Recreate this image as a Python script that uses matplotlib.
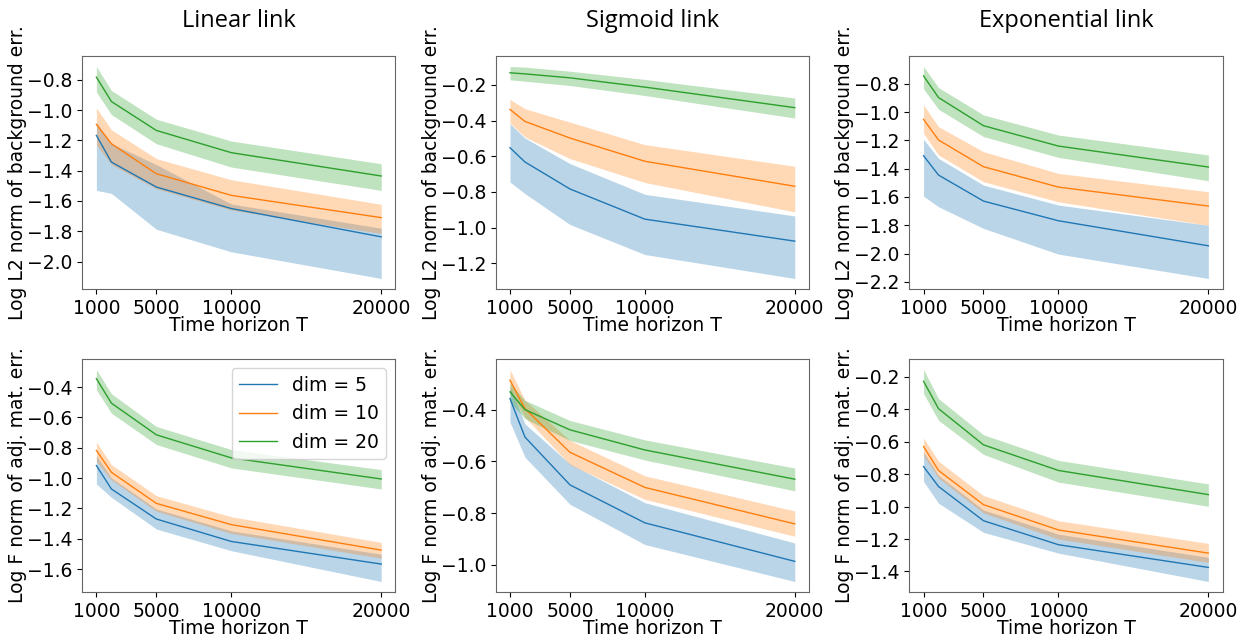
import numpy as np
import matplotlib.pyplot as plt
from matplotlib.ticker import MultipleLocator

plt.rcParams['font.family'] = ['DejaVu Sans']

T = [1000, 2000, 5000, 10000, 20000]
dims = [5, 10, 20]
links = ["Linear link", "Sigmoid link", "Exponential link"]
ylabels = ["Log L2 norm of background err.", "Log F norm of adj. mat. err."]

# background error (top row): mean, upper, lower per dim, per link
bg_linear_mean = [[-1.167, -1.343, -1.508, -1.650, -1.837],
                  [-1.094, -1.222, -1.420, -1.563, -1.710],
                  [-0.782, -0.943, -1.134, -1.281, -1.435]]
bg_linear_up = [[-1.08, -1.22, -1.36, -1.62, -1.78],
                [-0.985, -1.13, -1.32, -1.46, -1.622],
                [-0.712, -0.870, -1.060, -1.204, -1.354]]
bg_linear_lo = [[-1.53, -1.55, -1.787, -1.936, -2.112],
                [-1.23, -1.36, -1.52, -1.66, -1.815],
                [-0.881, -1.029, -1.222, -1.376, -1.530]]

bg_sigmoid_mean = [[-0.552, -0.632, -0.783, -0.952, -1.075],
                   [-0.338, -0.405, -0.498, -0.628, -0.768],
                   [-0.133, -0.139, -0.161, -0.213, -0.328]]
bg_sigmoid_up = [[-0.418, -0.498, -0.641, -0.813, -0.934],
                 [-0.282, -0.334, -0.409, -0.535, -0.656],
                 [-0.098, -0.101, -0.124, -0.170, -0.274]]
bg_sigmoid_lo = [[-0.744, -0.809, -0.982, -1.150, -1.284],
                 [-0.414, -0.492, -0.613, -0.747, -0.911],
                 [-0.172, -0.180, -0.204, -0.260, -0.386]]

bg_exp_mean = [[-1.308, -1.445, -1.629, -1.768, -1.945],
               [-1.051, -1.197, -1.386, -1.530, -1.664],
               [-0.744, -0.897, -1.096, -1.240, -1.388]]
bg_exp_up = [[-1.192, -1.327, -1.516, -1.657, -1.800],
             [-0.949, -1.103, -1.280, -1.433, -1.563],
             [-0.678, -0.827, -1.020, -1.162, -1.303]]
bg_exp_lo = [[-1.594, -1.669, -1.822, -2.004, -2.176],
             [-1.150, -1.303, -1.492, -1.634, -1.800],
             [-0.836, -0.980, -1.173, -1.320, -1.485]]

# adjacency matrix error (bottom row)
adj_linear_mean = [[-0.918, -1.072, -1.270, -1.418, -1.567],
                   [-0.818, -0.962, -1.167, -1.307, -1.475],
                   [-0.345, -0.506, -0.715, -0.867, -1.006]]
adj_linear_up = [[-0.852, -0.999, -1.204, -1.348, -1.502],
                 [-0.763, -0.911, -1.116, -1.255, -1.424],
                 [-0.285, -0.444, -0.660, -0.812, -0.944]]
adj_linear_lo = [[-1.039, -1.127, -1.336, -1.479, -1.682],
                 [-0.889, -1.012, -1.219, -1.365, -1.528],
                 [-0.418, -0.572, -0.779, -0.933, -1.072]]

adj_sigmoid_mean = [[-0.357, -0.506, -0.691, -0.838, -0.987],
                    [-0.286, -0.396, -0.565, -0.701, -0.842],
                    [-0.331, -0.400, -0.478, -0.556, -0.669]]
adj_sigmoid_up = [[-0.312, -0.455, -0.610, -0.760, -0.916],
                  [-0.245, -0.364, -0.519, -0.656, -0.792],
                  [-0.296, -0.364, -0.442, -0.517, -0.626]]
adj_sigmoid_lo = [[-0.448, -0.584, -0.766, -0.922, -1.065],
                  [-0.331, -0.429, -0.613, -0.747, -0.890],
                  [-0.370, -0.435, -0.519, -0.595, -0.714]]

adj_exp_mean = [[-0.753, -0.876, -1.087, -1.235, -1.375],
                [-0.629, -0.777, -0.988, -1.144, -1.287],
                [-0.227, -0.396, -0.619, -0.777, -0.926]]
adj_exp_up = [[-0.664, -0.808, -1.021, -1.170, -1.313],
              [-0.577, -0.720, -0.932, -1.087, -1.227],
              [-0.155, -0.334, -0.557, -0.715, -0.860]]
adj_exp_lo = [[-0.845, -0.979, -1.159, -1.287, -1.462],
              [-0.685, -0.823, -1.039, -1.200, -1.344],
              [-0.303, -0.468, -0.678, -0.849, -0.998]]

panels = [
    [(bg_linear_mean, bg_linear_up, bg_linear_lo),
     (bg_sigmoid_mean, bg_sigmoid_up, bg_sigmoid_lo),
     (bg_exp_mean, bg_exp_up, bg_exp_lo)],
    [(adj_linear_mean, adj_linear_up, adj_linear_lo),
     (adj_sigmoid_mean, adj_sigmoid_up, adj_sigmoid_lo),
     (adj_exp_mean, adj_exp_up, adj_exp_lo)],
]

colors = ["tab:blue", "tab:orange", "tab:green"]

fig, axes = plt.subplots(2, 3, figsize=(12.45, 6.36), dpi=100)
fig.subplots_adjust(left=0.066, right=0.982, top=0.912, bottom=0.069,
                    wspace=0.32, hspace=0.30)

for r in range(2):
    for c in range(3):
        ax = axes[r, c]
        mean, up, lo = panels[r][c]
        for k, d in enumerate(dims):
            ax.fill_between(T, lo[k], up[k], color=colors[k], alpha=0.3,
                            linewidth=0)
            ax.plot(T, mean[k], color=colors[k], linewidth=1.0,
                    label=f"dim = {d}")
        ax.set_xticks([1000, 5000, 10000, 20000])
        ax.yaxis.set_major_locator(MultipleLocator(0.2))
        ax.tick_params(labelsize=13.5)
        ax.set_xlabel("Time horizon T", fontsize=13.5, labelpad=-1)
        ax.set_ylabel(ylabels[r], fontsize=13.5, labelpad=0)
        for s in ax.spines.values():
            s.set_color("0.4")
        if r == 0:
            ax.set_title(links[c], fontsize=17, family="Open Sans", pad=21)

axes[1, 0].legend(loc="upper right", fontsize=13.5)

fig.savefig("out.png")
